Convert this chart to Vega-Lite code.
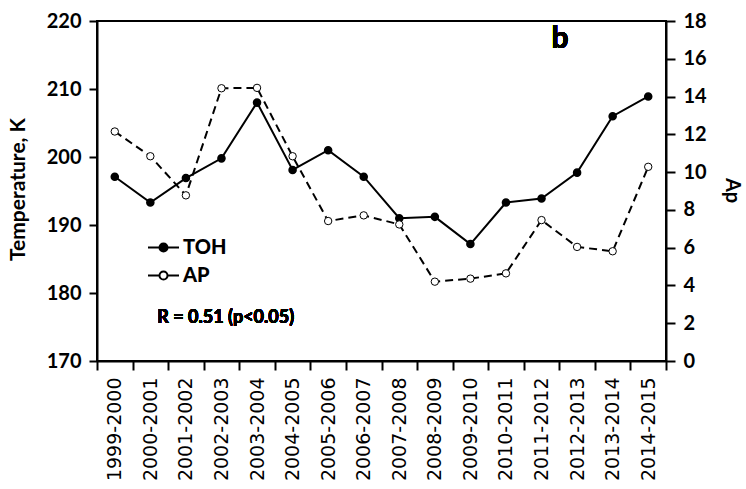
{
  "$schema": "https://vega.github.io/schema/vega-lite/v6.json",
  "width": 569,
  "height": 340,
  "autosize": {"type": "none"},
  "padding": {"left": 97, "top": 21, "right": 80, "bottom": 128},
  "background": "white",
  "config": {
    "view": {"stroke": "black", "strokeWidth": 2},
    "font": "Lato",
    "axis": {"domainColor": "black", "domainWidth": 2, "tickColor": "black", "tickWidth": 2, "labelColor": "black", "titleColor": "black", "grid": false, "labelOverlap": false}
  },
  "data": {
    "values": [
      {"season": "1999-2000", "TOH": 197.1, "AP": 12.15},
      {"season": "2000-2001", "TOH": 193.3, "AP": 10.84},
      {"season": "2001-2002", "TOH": 196.9, "AP": 8.77},
      {"season": "2002-2003", "TOH": 199.8, "AP": 14.44},
      {"season": "2003-2004", "TOH": 208.0, "AP": 14.46},
      {"season": "2004-2005", "TOH": 198.1, "AP": 10.84},
      {"season": "2005-2006", "TOH": 201.0, "AP": 7.41},
      {"season": "2006-2007", "TOH": 197.1, "AP": 7.71},
      {"season": "2007-2008", "TOH": 191.0, "AP": 7.23},
      {"season": "2008-2009", "TOH": 191.2, "AP": 4.20},
      {"season": "2009-2010", "TOH": 187.2, "AP": 4.36},
      {"season": "2010-2011", "TOH": 193.3, "AP": 4.64},
      {"season": "2011-2012", "TOH": 193.9, "AP": 7.46},
      {"season": "2012-2013", "TOH": 197.7, "AP": 6.04},
      {"season": "2013-2014", "TOH": 206.0, "AP": 5.81},
      {"season": "2014-2015", "TOH": 208.9, "AP": 10.28}
    ]
  },
  "encoding": {
    "x": {
      "field": "season",
      "type": "ordinal",
      "sort": null,
      "scale": {"type": "band", "paddingInner": 0, "paddingOuter": 0},
      "axis": {
        "title": null,
        "labelAngle": 270,
        "labelFont": "DejaVu Sans",
        "labelFontSize": 19,
        "labelFontWeight": "normal",
        "tickBand": "extent",
        "tickSize": 9,
        "labelPadding": 7
      }
    }
  },
  "layer": [
    {
      "encoding": {
        "y": {
          "field": "TOH",
          "type": "quantitative",
          "scale": {"domain": [170, 220], "nice": false, "zero": false},
          "axis": {
            "orient": "left",
            "values": [170, 180, 190, 200, 210, 220],
            "labelOverlap": false,
            "labelFontSize": 20,
            "labelFontWeight": "bold",
            "tickSize": 8,
            "labelPadding": 8,
            "title": "Temperature, K",
            "titleFontSize": 21,
            "titleFontWeight": "bold",
            "titleAngle": 270,
            "titleX": -79,
            "titleY": 168,
            "titleAlign": "center",
            "titleBaseline": "middle"
          }
        }
      },
      "layer": [
        {
          "mark": {"type": "line", "color": "black", "strokeWidth": 2}
        },
        {
          "mark": {"type": "point", "filled": true, "stroke": "black", "strokeWidth": 1.5, "size": 50, "opacity": 1},
          "encoding": {
            "fill": {
              "datum": "TOH",
              "type": "nominal",
              "scale": {"domain": ["TOH", "AP"], "range": ["black", "white"]},
              "legend": {
                "title": null,
                "orient": "none",
                "legendX": 50,
                "legendY": 210,
                "padding": 0,
                "symbolType": "M-1,0L-0.26,0M0.26,0L1,0M-0.26,0A0.26,0.26,0,1,1,0.26,0A0.26,0.26,0,1,1,-0.26,0Z",
                "symbolSize": 961,
                "symbolStrokeColor": "black",
                "symbolStrokeWidth": 2,
                "symbolOpacity": 1,
                "labelFont": "Lato",
                "labelFontSize": 20,
                "labelFontWeight": 900,
                "labelColor": "black",
                "labelOffset": 3,
                "rowPadding": 1
              }
            }
          }
        }
      ]
    },
    {
      "encoding": {
        "y": {
          "field": "AP",
          "type": "quantitative",
          "scale": {"domain": [0, 18], "nice": false},
          "axis": {
            "orient": "right",
            "values": [0, 2, 4, 6, 8, 10, 12, 14, 16, 18],
            "labelOverlap": false,
            "labelFontSize": 20,
            "labelFontWeight": "bold",
            "tickSize": 9,
            "labelPadding": 8,
            "title": "Ap",
            "titleFontSize": 20,
            "titleFontWeight": "bold",
            "titleAngle": 90,
            "titleX": 65,
            "titleY": 169,
            "titleAlign": "center",
            "titleBaseline": "middle"
          }
        }
      },
      "layer": [
        {
          "mark": {"type": "line", "color": "black", "strokeWidth": 2, "strokeDash": [8, 5]}
        },
        {
          "mark": {"type": "point", "filled": true, "stroke": "black", "strokeWidth": 1, "size": 55, "opacity": 1},
          "encoding": {
            "fill": {"datum": "AP", "type": "nominal", "scale": {"domain": ["TOH", "AP"], "range": ["black", "white"]}}
          }
        }
      ]
    },
    {
      "layer": [
        {
          "mark": {"type": "text", "text": "R = 0.51 (p<0.05)", "font": "Lato", "fontSize": 18, "fontWeight": "bold", "align": "left", "baseline": "middle", "dx": 7, "fill": "black"},
          "encoding": {
            "x": {"datum": "2000-2001"},
            "y": {"datum": 176.3, "type": "quantitative", "scale": {"domain": [170, 220], "nice": false, "zero": false}, "axis": null}
          }
        },
        {
          "mark": {"type": "text", "text": "b", "font": "Lato", "fontSize": 30, "fontWeight": "bold", "align": "center", "baseline": "alphabetic", "dx": -17, "fill": "black"},
          "encoding": {
            "x": {"datum": "2012-2013"},
            "y": {"datum": 216, "type": "quantitative", "scale": {"domain": [170, 220], "nice": false, "zero": false}, "axis": null}
          }
        }
      ]
    }
  ],
  "resolve": {"scale": {"y": "independent"}}
}
